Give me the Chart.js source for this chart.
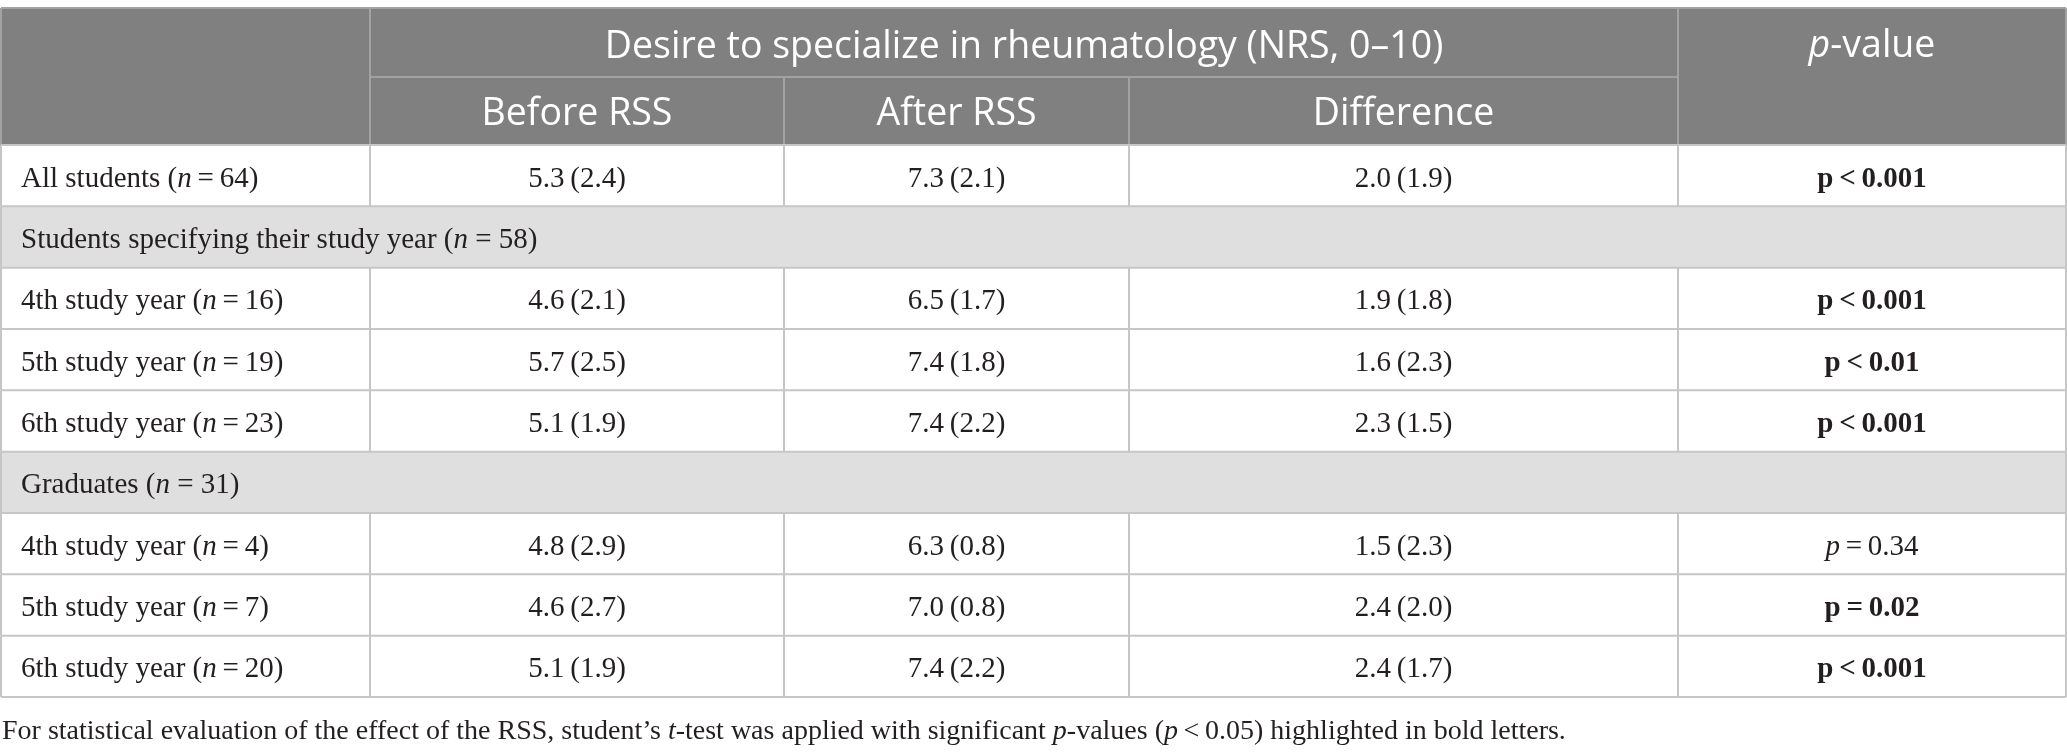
<!DOCTYPE html>
<html><head><meta charset="utf-8">
<script src="https://cdn.jsdelivr.net/npm/chart.js@4.4.1/dist/chart.umd.min.js"></script>
<style>html,body{margin:0;padding:0;background:#fff;overflow:hidden}
#wrap{position:relative;width:2067px;height:754px}</style>
</head><body><div id="wrap"><canvas id="c"></canvas></div>
<script>
// ---------- data ----------
const groupHeader = "Desire to specialize in rheumatology (NRS, 0\u201310)";
const columnHeaders = ["Before RSS", "After RSS", "Difference"];
const rowLabels = ["All students", "Students specifying their study year", "4th study year", "5th study year", "6th study year", "Graduates", "4th study year", "5th study year", "6th study year"];
const rowN = [64, 58, 16, 19, 23, 31, 4, 7, 20];
const sectionRow = [false, true, false, false, false, true, false, false, false];
const beforeMean = [5.3, null, 4.6, 5.7, 5.1, null, 4.8, 4.6, 5.1];
const beforeSD   = [2.4, null, 2.1, 2.5, 1.9, null, 2.9, 2.7, 1.9];
const afterMean  = [7.3, null, 6.5, 7.4, 7.4, null, 6.3, 7.0, 7.4];
const afterSD    = [2.1, null, 1.7, 1.8, 2.2, null, 0.8, 0.8, 2.2];
const diffMean   = [2.0, null, 1.9, 1.6, 2.3, null, 1.5, 2.4, 2.4];
const diffSD     = [1.9, null, 1.8, 2.3, 1.5, null, 2.3, 2.0, 1.7];
const pRelation  = ["<", null, "<", "<", "<", null, "=", "=", "<"];
const pValue     = ["0.001", null, "0.001", "0.01", "0.001", null, "0.34", "0.02", "0.001"];
const alpha = 0.05;

// ---------- layout (positions in scale units) ----------
const W = 2067, H = 754;
const colEdges = [1, 370, 784, 1129, 1678, 2066];
const headTop = 8, headMid = 77, headBottom = 145, tableBottom = 697;
const footY = 739;

const SERIF = '"Liberation Serif", "Times New Roman", serif';
const SANS = '"Open Sans", "Noto Sans", sans-serif';
const bodySize = 29, headSize = 37.5, footSize = 28;
const C = {
  head: '#7f807f', headLine: '#a2a2a2', section: '#e0dfe0',
  line: '#c6c6c6', text: '#231f20', headText: '#ffffff'
};

function f(style, size, fam){ return style + ' ' + size + 'px ' + fam; }
const R = f('normal', bodySize, SERIF), I = f('italic', bodySize, SERIF), B = f('bold', bodySize, SERIF);
const TH = '\u2009';

function runsWidth(ctx, runs){
  let w = 0; for (const r of runs){ ctx.font = r.font; w += ctx.measureText(r.t).width; } return w;
}
function drawRuns(ctx, runs, x, y, align, color){
  const w = runsWidth(ctx, runs);
  let cx = align === 'center' ? x - w/2 : x;
  ctx.fillStyle = color; ctx.textBaseline = 'alphabetic'; ctx.textAlign = 'left';
  for (const r of runs){ ctx.font = r.font; ctx.fillText(r.t, cx, y); cx += ctx.measureText(r.t).width; }
}
const fmt = (m, s) => [{t: m.toFixed(1) + TH + '(' + s.toFixed(1) + ')', font: R}];

const tablePlugin = {
  id: 'tablePlugin',
  afterDraw(chart){
    const ctx = chart.ctx, xs = chart.scales.x, ys = chart.scales.y;
    const X = v => xs.getPixelForValue(v), Y = v => ys.getPixelForValue(v);
    const nRows = rowLabels.length;
    const rowH = (tableBottom - headBottom) / nRows;
    const rowTop = i => headBottom + i * rowH;
    ctx.save();
    // backgrounds
    ctx.fillStyle = C.head;
    ctx.fillRect(X(colEdges[0]), Y(headTop), X(colEdges[5]) - X(colEdges[0]), Y(headBottom) - Y(headTop));
    rowLabels.forEach((_, i) => {
      if (sectionRow[i]) {
        ctx.fillStyle = C.section;
        ctx.fillRect(X(colEdges[0]), Y(rowTop(i)), X(colEdges[5]) - X(colEdges[0]), Y(rowTop(i+1)) - Y(rowTop(i)));
      }
    });
    // lines
    const hl = (x0, x1, y, col) => { ctx.strokeStyle = col; ctx.lineWidth = 2; ctx.beginPath(); ctx.moveTo(X(x0), Y(y)); ctx.lineTo(X(x1), Y(y)); ctx.stroke(); };
    const vl = (x, y0, y1, col) => { ctx.strokeStyle = col; ctx.lineWidth = 2; ctx.beginPath(); ctx.moveTo(X(x), Y(y0)); ctx.lineTo(X(x), Y(y1)); ctx.stroke(); };
    hl(colEdges[0], colEdges[5], headTop, C.headLine);
    hl(colEdges[1], colEdges[4], headMid, C.headLine);
    vl(colEdges[1], headTop, headBottom, C.headLine);
    vl(colEdges[4], headTop, headBottom, C.headLine);
    vl(colEdges[2], headMid, headBottom, C.headLine);
    vl(colEdges[3], headMid, headBottom, C.headLine);
    vl(colEdges[0], headTop, headBottom, C.headLine);
    vl(colEdges[5], headTop, headBottom, C.headLine);
    for (let i = 0; i <= nRows; i++) hl(colEdges[0], colEdges[5], rowTop(i), C.line);
    rowLabels.forEach((_, i) => {
      vl(colEdges[0], rowTop(i), rowTop(i+1), C.line);
      vl(colEdges[5], rowTop(i), rowTop(i+1), C.line);
      if (!sectionRow[i]) for (let k = 1; k <= 4; k++) vl(colEdges[k], rowTop(i), rowTop(i+1), C.line);
    });
    // header text
    const H1 = f('normal', headSize, SANS), HI = f('italic', headSize, SANS);
    drawRuns(ctx, [{t: groupHeader, font: H1}], X((colEdges[1] + colEdges[4]) / 2), Y(58), 'center', C.headText);
    columnHeaders.forEach((h, k) => {
      drawRuns(ctx, [{t: h, font: H1}], X((colEdges[k+1] + colEdges[k+2]) / 2), Y(125), 'center', C.headText);
    });
    drawRuns(ctx, [{t: 'p', font: HI}, {t: '-value', font: H1}], X((colEdges[4] + colEdges[5]) / 2), Y(57), 'center', C.headText);
    // body
    rowLabels.forEach((lab, i) => {
      const base = rowTop(i) + rowH / 2 + 11;
      if (sectionRow[i]) {
        drawRuns(ctx, [{t: lab + ' (', font: R}, {t: 'n', font: I}, {t: ' = ' + rowN[i] + ')', font: R}], X(colEdges[0] + 20), Y(base), 'left', C.text);
        return;
      }
      drawRuns(ctx, [{t: lab + ' (', font: R}, {t: 'n', font: I}, {t: TH + '=' + TH + rowN[i] + ')', font: R}], X(colEdges[0] + 20), Y(base), 'left', C.text);
      drawRuns(ctx, fmt(beforeMean[i], beforeSD[i]), X((colEdges[1] + colEdges[2]) / 2), Y(base), 'center', C.text);
      drawRuns(ctx, fmt(afterMean[i], afterSD[i]), X((colEdges[2] + colEdges[3]) / 2), Y(base), 'center', C.text);
      drawRuns(ctx, fmt(diffMean[i], diffSD[i]), X((colEdges[3] + colEdges[4]) / 2), Y(base), 'center', C.text);
      const sig = parseFloat(pValue[i]) < alpha;
      const pr = sig
        ? [{t: 'p' + TH + pRelation[i] + TH + pValue[i], font: B}]
        : [{t: 'p', font: I}, {t: TH + pRelation[i] + TH + pValue[i], font: R}];
      drawRuns(ctx, pr, X((colEdges[4] + colEdges[5]) / 2), Y(base), 'center', C.text);
    });
    // footnote
    const FR = f('normal', footSize, SERIF), FI = f('italic', footSize, SERIF);
    drawRuns(ctx, [
      {t: 'For statistical evaluation of the effect of the RSS, student\u2019s ', font: FR},
      {t: 't', font: FI}, {t: '-test was applied with significant ', font: FR},
      {t: 'p', font: FI}, {t: '-values (', font: FR}, {t: 'p', font: FI},
      {t: TH + '<' + TH + '0.05) highlighted in bold letters.', font: FR}
    ], X(2), Y(footY), 'left', C.text);
    ctx.restore();
  }
};

new Chart(document.getElementById('c').getContext('2d'), {
  type: 'scatter',
  data: { datasets: [] },
  options: {
    responsive: true, maintainAspectRatio: false, animation: false, devicePixelRatio: 1,
    layout: { padding: 0 },
    plugins: { legend: { display: false }, tooltip: { enabled: false }, title: { display: false } },
    scales: {
      x: { type: 'linear', min: 0, max: W, display: false },
      y: { type: 'linear', min: 0, max: H, reverse: true, display: false }
    }
  },
  plugins: [tablePlugin]
});
</script>
</body></html>
